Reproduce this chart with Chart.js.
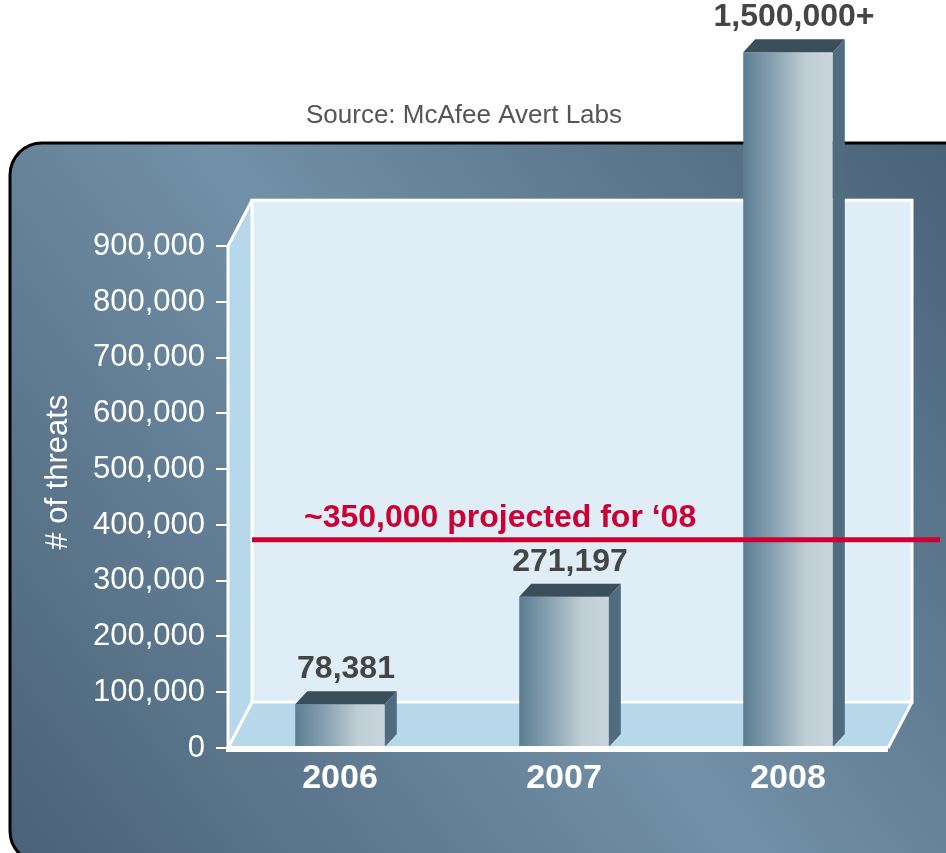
<!DOCTYPE html>
<html>
<head>
<meta charset="utf-8">
<title># of threats</title>
<script src="https://cdn.jsdelivr.net/npm/chart.js@4.4.1/dist/chart.umd.min.js"></script>
<style>
  html, body { margin: 0; padding: 0; background: #fff; }
  #wrap { width: 946px; height: 853px; }
</style>
</head>
<body>
<div id="wrap"><canvas id="myChart"></canvas></div>
<script>
// data
const years = ["2006", "2007", "2008"];
const threats = [78381, 271197, 1500000];
const threatSuffix = ["", "", "+"];
const projected = 350000;
const projectedText = "~350,000 projected for \u201808";
const yMax = 900000;
const yStep = 100000;
const sourceText = "Source: McAfee Avert Labs";
const axisTitle = "# of threats";

// values above the top tick get squeezed so the tall bar still fits
const aboveMaxRatio = 0.58;

// 3d look
const DEPTH_X = 24, DEPTH_Y = -46;
const BAR_DX = 12, BAR_DY = -13;
const BAR_PCT = 0.4;

Chart.defaults.font.family = "'Liberation Sans', Arial, Helvetica, sans-serif";

class BrokenScale extends Chart.LinearScale {
  getPixelForValue(value) {
    if (value > this.max) {
      value = this.max + (value - this.max) * aboveMaxRatio;
    }
    return super.getPixelForValue(value);
  }
}
BrokenScale.id = "broken";
BrokenScale.defaults = Chart.LinearScale.defaults;
Chart.register(BrokenScale);

function poly(ctx, pts) {
  ctx.beginPath();
  ctx.moveTo(pts[0][0], pts[0][1]);
  for (let i = 1; i < pts.length; i++) ctx.lineTo(pts[i][0], pts[i][1]);
  ctx.closePath();
}

function barGradient(context) {
  const chart = context.chart;
  const xs = chart.scales.x;
  if (!xs || !chart.chartArea) return "#8fa7b5";
  const cx = xs.getPixelForValue(context.dataIndex);
  const half = (xs.width / years.length) * BAR_PCT / 2;
  const g = chart.ctx.createLinearGradient(cx - half, 0, cx + half, 0);
  g.addColorStop(0, "#5b7e93");
  g.addColorStop(0.35, "#8aa3b1");
  g.addColorStop(0.7, "#bfcdd5");
  g.addColorStop(1, "#c9d6dd");
  return g;
}

const boxPlugin = {
  id: "box3d",
  beforeDraw(chart) {
    const ctx = chart.ctx;
    const w = chart.width, h = chart.height;
    ctx.save();
    ctx.fillStyle = "#fff";
    ctx.fillRect(0, 0, w, h);
    // rounded panel behind the plot
    const g = ctx.createLinearGradient(w, 143, 10, h);
    g.addColorStop(0, "#4a6277");
    g.addColorStop(0.5, "#7290a7");
    g.addColorStop(1, "#4a6277");
    ctx.beginPath();
    ctx.roundRect(10, 143, w + 20, h - 133, 32);
    ctx.fillStyle = g;
    ctx.fill();
    ctx.lineWidth = 3;
    ctx.strokeStyle = "#000";
    ctx.stroke();
    ctx.restore();
  },
  beforeDatasetsDraw(chart) {
    const ctx = chart.ctx;
    const { left: L, right: R, top: T, bottom: B } = chart.chartArea;
    const bL = L + DEPTH_X, bR = R + 12, bT = T + DEPTH_Y, bB = B + DEPTH_Y;
    const fR = R - 12;
    ctx.save();
    // back wall
    ctx.fillStyle = "#dfeef6";
    ctx.fillRect(bL, bT, bR - bL, bB - bT);
    // side wall and floor
    ctx.fillStyle = "#b7d7ea";
    poly(ctx, [[L, T], [bL, bT], [bL, bB], [L, B]]);
    ctx.fill();
    poly(ctx, [[L, B], [bL, bB], [bR, bB], [fR, B]]);
    ctx.fill();
    ctx.strokeStyle = "#fff";
    ctx.lineWidth = 3;
    ctx.strokeRect(bL, bT, bR - bL, bB - bT);
    ctx.beginPath();
    ctx.moveTo(L, B + 2); ctx.lineTo(L, T); ctx.lineTo(bL, bT);
    ctx.moveTo(L, B); ctx.lineTo(bL, bB);
    ctx.moveTo(fR, B); ctx.lineTo(bR, bB);
    ctx.stroke();
    ctx.restore();
  },
  afterDatasetsDraw(chart) {
    const ctx = chart.ctx;
    const { left: L, right: R, top: T, bottom: B } = chart.chartArea;
    const bL = L + DEPTH_X, fR = R - 12;
    const meta = chart.getDatasetMeta(0);
    ctx.save();
    meta.data.forEach((bar, i) => {
      const { x, y, base, width } = bar.getProps(["x", "y", "base", "width"], true);
      const l = x - width / 2, r = x + width / 2;
      ctx.fillStyle = "#4f6d7f";
      poly(ctx, [[r, y], [r + BAR_DX, y + BAR_DY], [r + BAR_DX, base + BAR_DY], [r, base]]);
      ctx.fill();
      ctx.fillStyle = "#3a4e5c";
      poly(ctx, [[l, y], [l + BAR_DX, y + BAR_DY], [r + BAR_DX, y + BAR_DY], [r, y]]);
      ctx.fill();
      ctx.fillStyle = "#454545";
      ctx.font = "bold 32px " + Chart.defaults.font.family;
      ctx.textAlign = "center";
      ctx.textBaseline = "alphabetic";
      ctx.fillText(threats[i].toLocaleString("en-US") + threatSuffix[i], x + BAR_DX / 2, y + BAR_DY - 13);
    });

    // front edge of the floor
    ctx.fillStyle = "#fff";
    ctx.fillRect(L - 2, B - 2, fR - L + 2, 6);

    // projection line, laid in the plane of the bars' back faces
    const py = chart.scales.y.getPixelForValue(projected) + BAR_DY;
    ctx.strokeStyle = "#cc0033";
    ctx.lineWidth = 5;
    ctx.beginPath();
    ctx.moveTo(bL, py);
    ctx.lineTo(chart.width - 6, py);
    ctx.stroke();
    ctx.fillStyle = "#cc0033";
    ctx.font = "bold 32px " + Chart.defaults.font.family;
    ctx.textAlign = "left";
    ctx.fillText(projectedText, bL + 52, py - 13);

    // y axis title
    ctx.translate(58, (T + B) / 2 - 25);
    ctx.rotate(-Math.PI / 2);
    ctx.fillStyle = "#fff";
    ctx.font = "31px " + Chart.defaults.font.family;
    ctx.textAlign = "center";
    ctx.textBaseline = "middle";
    ctx.fillText(axisTitle, 0, 0);
    ctx.restore();
  }
};

const ctx = document.getElementById("myChart");
const myChart = new Chart(ctx, {
  type: "bar",
  data: {
    labels: years,
    datasets: [
      {
        label: axisTitle,
        data: threats,
        backgroundColor: barGradient,
        borderWidth: 0,
        categoryPercentage: 1,
        barPercentage: BAR_PCT,
        clip: false,
      },
    ],
  },
  options: {
    responsive: true,
    maintainAspectRatio: false,
    animation: false,
    layout: { padding: { left: 28, right: 46, top: 0, bottom: 0 } },
    plugins: {
      legend: { display: false },
      tooltip: { enabled: false },
      title: {
        display: true,
        text: sourceText,
        color: "#555",
        font: { size: 26, weight: "normal" },
        padding: { top: 100, bottom: 115 },
      },
    },
    scales: {
      x: {
        grid: { display: false, drawTicks: false },
        border: { display: false },
        ticks: { color: "#fff", font: { size: 34, weight: "bold" }, padding: 10 },
        afterFit: (scale) => { scale.height = 105; },
      },
      y: {
        type: "broken",
        min: 0,
        max: yMax,
        ticks: { stepSize: yStep, color: "#fff", font: { size: 31 }, padding: 11 },
        grid: { drawOnChartArea: false, color: "#fff", lineWidth: 2, tickLength: 12 },
        border: { display: false },
        afterFit: (scale) => { scale.width = 200; },
      },
    },
  },
  plugins: [boxPlugin],
});
</script>
</body>
</html>
